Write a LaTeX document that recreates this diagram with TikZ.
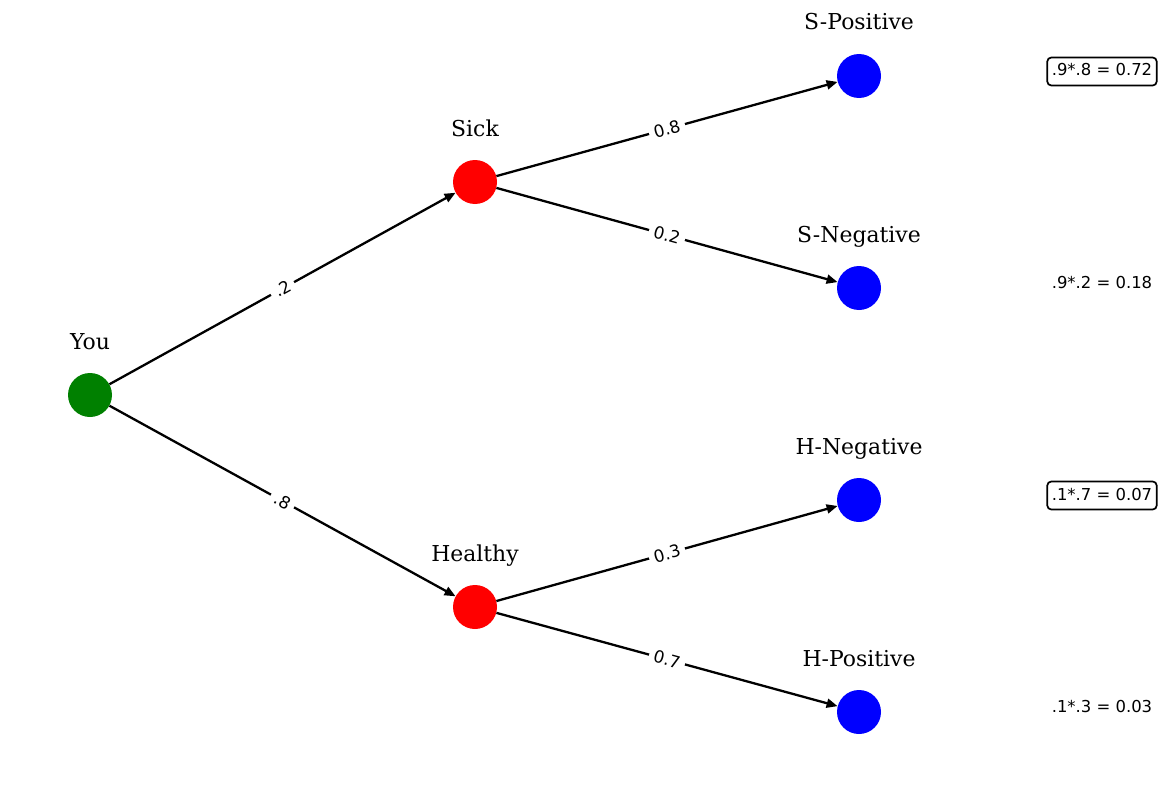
\documentclass[tikz,border=0pt]{standalone}
\usepackage{fontspec}
\setmainfont{DejaVu Serif}
\newfontfamily\labfont{DejaVu Sans}
\usetikzlibrary{arrows.meta}
\begin{document}
\begin{tikzpicture}[x=1bp,y=-1bp,
  dot/.style={circle,minimum size=44bp,inner sep=0pt},
  nlab/.style={anchor=base,font=\fontsize{22}{24}\selectfont},
  edge/.style={line width=2.3bp,-{Triangle[length=11bp,width=9bp]}},
  elab/.style={midway,sloped,fill=white,inner xsep=5bp,inner ysep=1bp,font=\labfont\fontsize{17}{19}\selectfont},
  result/.style={rounded corners=4bp,line width=1.7bp,inner xsep=4.5bp,inner ysep=6.5bp,text height=12bp,text depth=3bp,font=\labfont\fontsize{16.5}{18}\selectfont}
]
\useasboundingbox (0,0) rectangle (1162,790);
\node[dot,fill={rgb,255:red,0;green,128;blue,0}] (you) at (90,395) {};
\node[dot,fill=red] (sick) at (475,182) {};
\node[dot,fill=red] (healthy) at (475,607) {};
\node[dot,fill=blue] (sp) at (859,76) {};
\node[dot,fill=blue] (sn) at (859,288) {};
\node[dot,fill=blue] (hn) at (859,500) {};
\node[dot,fill=blue] (hp) at (859,712) {};

\node[nlab] (lyou) at (90,349) {You};
\node[nlab] (lsick) at (475,136) {Sick};
\node[nlab] (lhealthy) at (475,561) {Healthy};
\node[nlab] (lsp) at (859,30) {S-Positive};
\node[nlab] (lsn) at (859,242) {S-Negative};
\node[nlab] (lhn) at (859,454) {H-Negative};
\node[nlab] (lhp) at (859,666) {H-Positive};

\draw[edge] (you) -- node[elab] (e1) {.2} (sick);
\draw[edge] (you) -- node[elab] (e2) {.8} (healthy);
\draw[edge] (sick) -- node[elab] (e3) {0.8} (sp);
\draw[edge] (sick) -- node[elab] (e4) {0.2} (sn);
\draw[edge] (healthy) -- node[elab] (e5) {0.3} (hn);
\draw[edge] (healthy) -- node[elab] (e6) {0.7} (hp);

\node[result,draw] (r1) at (1102,71.5) {.9*.8 = 0.72};
\node[result] (r2) at (1102,283.5) {.9*.2 = 0.18};
\node[result,draw] (r3) at (1102,495.5) {.1*.7 = 0.07};
\node[result] (r4) at (1102,707.5) {.1*.3 = 0.03};
\end{tikzpicture}
\end{document}
